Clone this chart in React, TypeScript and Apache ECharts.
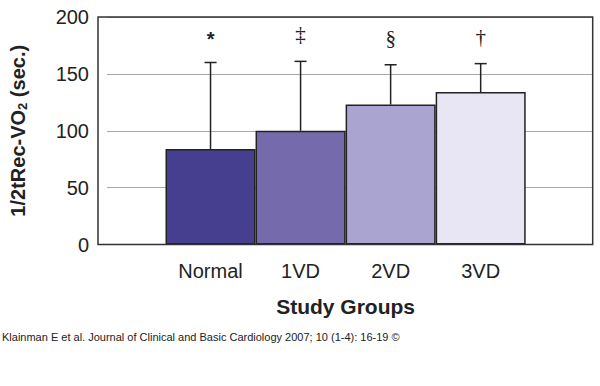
import React, { useEffect, useRef } from "react";
import * as echarts from "echarts";

const categories = ["Normal", "1VD", "2VD", "3VD"];
const means = [84, 100, 123, 134];
const sds = [76, 61, 35, 25];
const markers = ["*", "‡", "§", "†"];
const barColors = ["#463f8f", "#756aab", "#aaa5d0", "#e8e6f4"];
const yTicks = { min: 0, max: 200, interval: 50 };
const footer =
  "Klainman E et al. Journal of Clinical and Basic Cardiology 2007; 10 (1-4): 16-19 ©";

export default function App() {
  const ref = useRef<HTMLDivElement>(null);
  useEffect(() => {
    if (!ref.current) return;
    const chart = echarts.init(ref.current, undefined, { renderer: "svg" });
    const font = "'Liberation Sans', Arial, sans-serif";
    const serif = "'Liberation Serif', 'Times New Roman', serif";
    chart.setOption({
      animation: false,
      backgroundColor: "#ffffff",
      textStyle: { fontFamily: font, color: "#222" },
      grid: [
        { left: 98, right: 7, top: 17, bottom: 141.5 },
        { left: 165.5, right: 74.3, top: 17, bottom: 141.5 },
      ],
      xAxis: [
        { gridIndex: 0, type: "value", show: false, min: 0, max: 1 },
        {
          gridIndex: 1,
          type: "category",
          data: categories,
          axisLine: { show: false },
          axisTick: { show: false },
          axisLabel: { fontSize: 20, color: "#222", margin: 16, fontFamily: font },
          name: "Study Groups",
          nameLocation: "middle",
          nameGap: 51,
          nameTextStyle: { fontSize: 21, fontWeight: "bold", color: "#222", fontFamily: font },
        },
      ],
      yAxis: [
        {
          gridIndex: 0,
          type: "value",
          min: yTicks.min,
          max: yTicks.max,
          interval: yTicks.interval,
          axisLine: { show: false },
          axisTick: { show: false },
          axisLabel: { fontSize: 20, color: "#222", margin: 18, fontFamily: font },
          splitLine: { lineStyle: { color: "#a8a8a8", width: 1 } },
          name: "{b|1/2tRec-VO}{s|2}{b| (sec.)}",
          nameLocation: "middle",
          nameGap: 78,
          nameRotate: 90,
          nameTextStyle: {
            rich: {
              b: { fontSize: 20, fontWeight: "bold", color: "#222", fontFamily: font, lineHeight: 22 },
              s: {
                fontSize: 13,
                fontWeight: "bold",
                color: "#222",
                fontFamily: font,
                verticalAlign: "bottom",
                lineHeight: 22,
              },
            },
          },
        },
        { gridIndex: 1, type: "value", min: yTicks.min, max: yTicks.max, show: false },
      ],
      series: [
        {
          type: "bar",
          xAxisIndex: 1,
          yAxisIndex: 1,
          barWidth: "100%",
          barCategoryGap: 0,
          z: 3,
          data: means.map((v, i) => ({
            value: v,
            itemStyle: { color: barColors[i], borderColor: "#222", borderWidth: 1.5 },
          })),
        },
        {
          type: "custom",
          xAxisIndex: 1,
          yAxisIndex: 1,
          clip: false,
          z: 4,
          data: means.map((m, i) => [i, m, m + sds[i]]),
          renderItem: (params: any, api: any) => {
            const i = api.value(0);
            const base = api.coord([i, api.value(1)]);
            const top = api.coord([i, api.value(2)]);
            const half = 6;
            const style = { stroke: "#222", lineWidth: 1.5 };
            const first = params.dataIndex === 0;
            return {
              type: "group",
              children: [
                { type: "line", shape: { x1: base[0], y1: base[1], x2: top[0], y2: top[1] }, style },
                {
                  type: "line",
                  shape: { x1: top[0] - half, y1: top[1], x2: top[0] + half, y2: top[1] },
                  style,
                },
                {
                  type: "text",
                  style: {
                    text: markers[params.dataIndex],
                    x: top[0],
                    y: top[1] - (first ? 24 : 27),
                    align: "center",
                    verticalAlign: "middle",
                    fill: "#222",
                    fontSize: first ? 20 : 21,
                    fontWeight: first ? "bold" : "normal",
                    fontFamily: first ? font : serif,
                  },
                },
              ],
            };
          },
        },
      ],
      graphic: [
        {
          type: "rect",
          z: 10,
          shape: { x: 98, y: 17, width: 494.7, height: 227.5 },
          style: { fill: "none", stroke: "#333", lineWidth: 1.5 },
        },
        {
          type: "text",
          left: 2,
          top: 331,
          style: { text: footer, fontSize: 11, fill: "#222", fontFamily: font },
        },
      ],
    });
    return () => chart.dispose();
  }, []);
  return (
    <div
      ref={ref}
      style={{ width: 600, height: 386, position: "fixed", left: 0, top: 0 }}
    />
  );
}
